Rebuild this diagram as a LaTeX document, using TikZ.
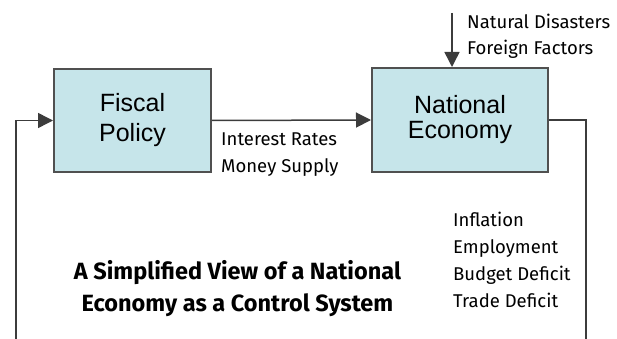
\documentclass[tikz,border=0pt]{standalone}
\usepackage{fontspec}
\setmainfont{Fira Sans}
\newfontfamily\boxfont{Liberation Sans}
\usetikzlibrary{
    arrows.meta,
    positioning
}
\definecolor{boxfill}{HTML}{C6E5EA}
\definecolor{boxline}{HTML}{505050}
\definecolor{wirecol}{HTML}{3C3C3C}

\begin{document}
\begin{tikzpicture}[x=1pt,y=-1pt,
    block/.style={draw=boxline,line width=2pt,fill=boxfill,align=center,inner sep=0pt},
    signal/.style={anchor=base west,inner sep=0pt,align=left,font=\fontsize{18.5}{26.7}\selectfont},
    wire/.style={draw=wirecol,line width=1.5pt},
    >={Triangle[length=15pt,width=15pt]}
]
    \useasboundingbox (0,0) rectangle (617,339);
    \node[block,minimum width=157pt,minimum height=103pt,
        font=\boxfont\fontsize{25}{30}\selectfont] (fiscal) at (132.5,120.5) {Fiscal\\Policy};
    \node[block,minimum width=176pt,minimum height=104pt,
        font=\boxfont\fontsize{25}{25}\selectfont] (economy) at (460,120) {National\\Economy};
    \coordinate (shock) at (452,13);
    \coordinate (outflow) at (586,339);
    \coordinate (feedback) at (16,339);
    \draw[wire,->] (fiscal.east) -- (economy.west);
    \draw[wire,->] (shock) -- (shock |- economy.north);
    \draw[wire] (economy.east) -| (outflow);
    \draw[wire,->] (feedback) |- (fiscal.west);
    \node[signal] (shocks) at (467,55) {Natural Disasters\\Foreign Factors};
    \node[signal] (levers) at (221,172) {Interest Rates\\Money Supply};
    \node[signal] (measures) at (453,307) {Inflation\\Employment\\Budget Deficit\\Trade Deficit};
    \node[align=center,inner sep=0pt,font=\bfseries\fontsize{23.5}{32}\selectfont] (caption) at (237.5,289)
        {A Simplified View of a National\\Economy as a Control System};
\end{tikzpicture}
\end{document}
